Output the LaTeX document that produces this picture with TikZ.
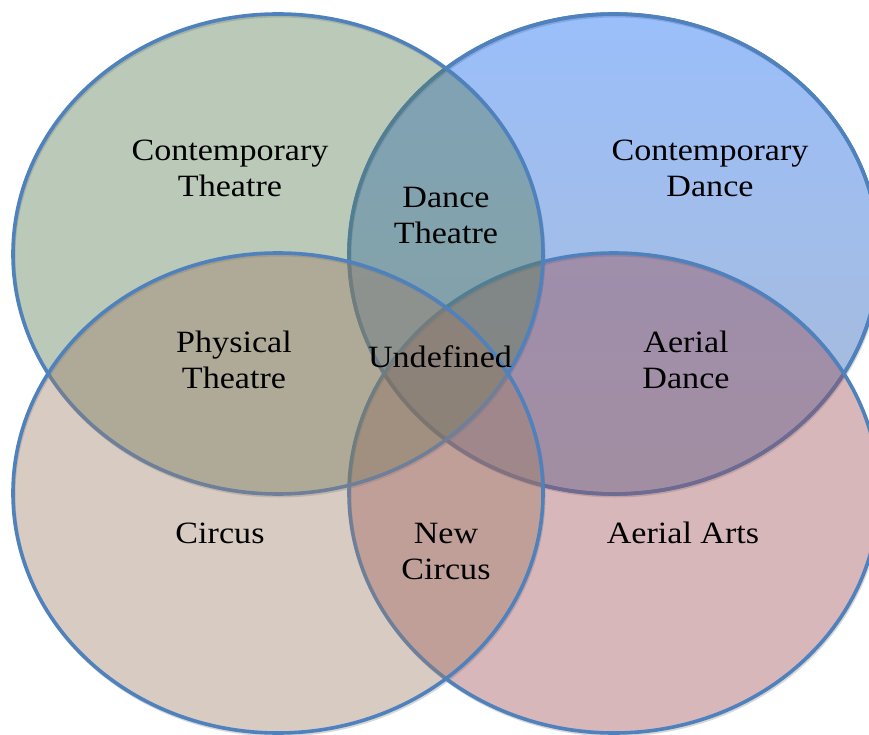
\documentclass[tikz,border=0pt]{standalone}
\usepackage{fontspec}
\setmainfont[FakeStretch=1.1]{Liberation Serif}
\definecolor{cTL}{RGB}{85,122,82}
\definecolor{cTRtop}{RGB}{5,95,245}
\definecolor{cTRbot}{RGB}{40,85,153}
\definecolor{cBR}{RGB}{155,75,83}
\definecolor{cBL}{RGB}{158,125,103}
\definecolor{edge}{RGB}{79,129,189}
\tikzset{
  venn/.style={draw=edge, line width=3.6pt, fill opacity=0.4},
  shadowline/.style={draw=black!30, line width=3pt, opacity=0.5},
  lbl/.style={align=center, font=\fontsize{31}{36}\selectfont, text=black, inner sep=0pt}
}
\begin{document}
\begin{tikzpicture}[x=1pt,y=-1pt]
\useasboundingbox (0,0) rectangle (869,735);
\fill[white] (0,0) rectangle (869,735);
% shadows
\foreach \cx/\cy in {614/254,278/254,614/493,278/493}
  \draw[shadowline] (\cx+1,\cy+2) ellipse [x radius=265, y radius=240];
% top right
\path[venn, top color=cTRtop, bottom color=cTRbot] (614,254) ellipse [x radius=265, y radius=240];
\draw[draw=edge, line width=3.6pt] (614,254) ellipse [x radius=265, y radius=240];
% bottom right
\filldraw[venn, fill=cBR] (614,493) ellipse [x radius=265, y radius=240];
% top left
\filldraw[venn, fill=cTL] (278,254) ellipse [x radius=265, y radius=240];
% bottom left
\filldraw[venn, fill=cBL] (278,493) ellipse [x radius=265, y radius=240];
% labels
\node[lbl] (ct) at (230,168) {Contemporary\\Theatre};
\node[lbl] (cd) at (710,168) {Contemporary\\Dance};
\node[lbl] (dt) at (446,216) {Dance\\Theatre};
\node[lbl] (pt) at (234,360) {Physical\\Theatre};
\node[lbl] (un) at (440,357) {Undefined};
\node[lbl] (ad) at (686,360) {Aerial\\Dance};
\node[lbl] (ci) at (220,533) {Circus};
\node[lbl] (nc) at (446,551) {New\\Circus};
\node[lbl] (aa) at (683,533) {Aerial Arts};
\end{tikzpicture}
\end{document}
